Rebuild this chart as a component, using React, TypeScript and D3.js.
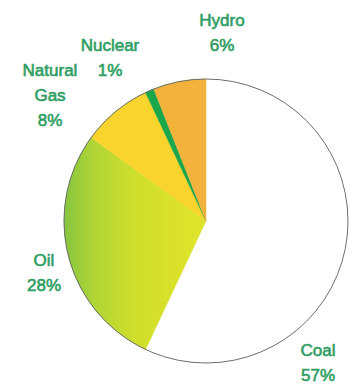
import React from "react";
import * as d3 from "d3";

const categories = ["Coal", "Oil", "Natural Gas", "Nuclear", "Hydro"];
const values = [57, 28, 8, 1, 6];
const labelLines = [["Coal", "57%"], ["Oil", "28%"], ["Natural", "Gas", "8%"], ["Nuclear", "1%"], ["Hydro", "6%"]];
const fills = ["#ffffff", "url(#oilGrad)", "#f8d42c", "#1aa64a", "#f2b23c"];
// label anchor positions (center x, first line y)
const labelPos: [number, number][] = [[318, 356], [44, 266], [50, 76], [110, 51], [222, 26]];

export default function App() {
  const W = 353, H = 385;
  const cx = 206, cy = 221, r = 142;
  const pie = d3.pie<number>().sort(null).value((d) => d)(values);
  const arc = d3.arc<d3.PieArcDatum<number>>().innerRadius(0).outerRadius(r);
  return (
    <svg width={W} height={H} style={{ position: "absolute", left: 0, top: 0 }}>
      <defs>
        <linearGradient id="oilGrad" gradientUnits="userSpaceOnUse" x1={-r} y1={0} x2={-20} y2={0}>
          <stop offset="0" stopColor="#86c540" />
          <stop offset="0.25" stopColor="#b0d534" />
          <stop offset="0.6" stopColor="#d0df2c" />
          <stop offset="1" stopColor="#dde22a" />
        </linearGradient>
      </defs>
      <rect width={W} height={H} fill="#ffffff" />
      <g transform={`translate(${cx},${cy})`}>
        {pie.map((p, i) => (
          <path key={categories[i]} d={arc(p) || ""} fill={fills[i]} stroke={fills[i] === "#ffffff" ? "none" : fills[i]} strokeWidth={0.5} />
        ))}
        <circle r={r} fill="none" stroke="#6a6f6a" strokeWidth={1} />
      </g>
      {labelLines.map((lines, i) => (
        <text key={categories[i]} x={labelPos[i][0]} y={labelPos[i][1]} textAnchor="middle"
          fontFamily="Liberation Sans, Arial, sans-serif" fontSize={17} fill="#2e9e62"
          stroke="#2e9e62" strokeWidth={0.6}>
          {lines.map((l, j) => (
            <tspan key={j} x={labelPos[i][0]} dy={j === 0 ? 0 : 25}>{l}</tspan>
          ))}
        </text>
      ))}
    </svg>
  );
}
